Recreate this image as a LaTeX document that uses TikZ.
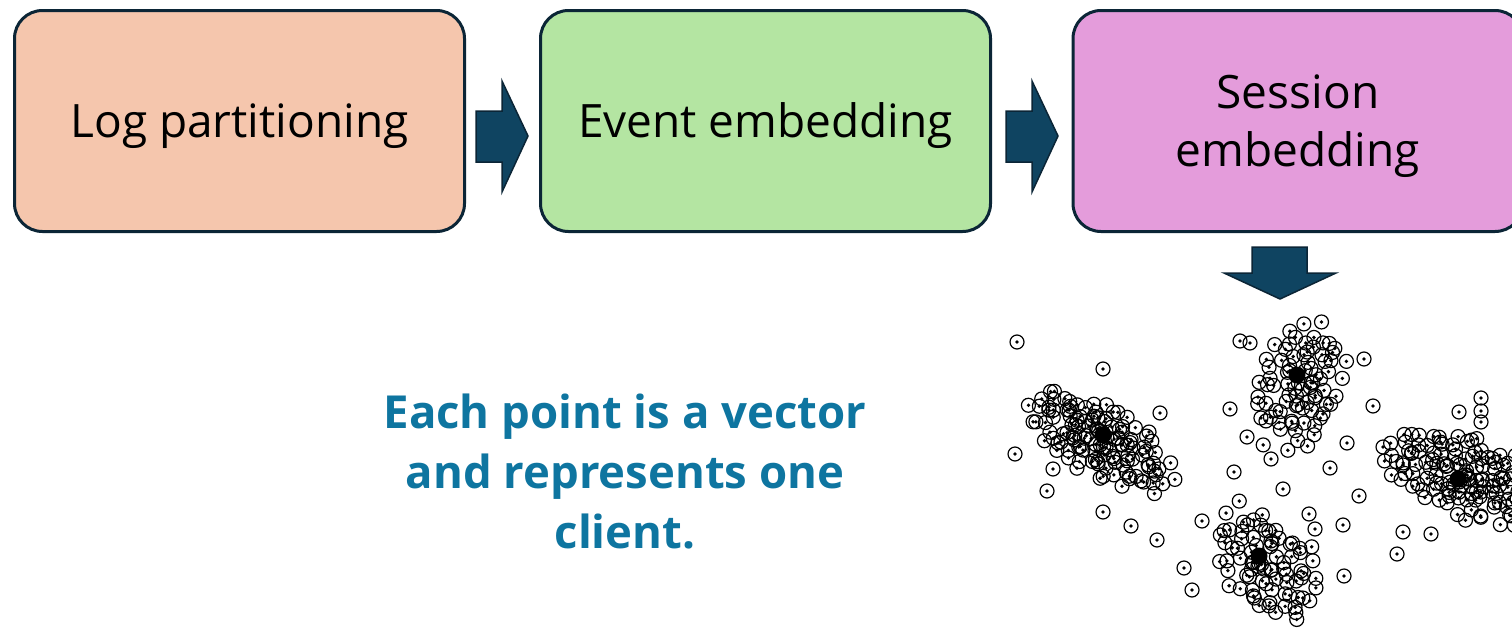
\documentclass[tikz,border=0pt]{standalone}
\usepackage{fontspec}
\setmainfont{Open Sans}
\definecolor{boxA}{HTML}{F5C6AD}
\definecolor{boxB}{HTML}{B4E5A2}
\definecolor{boxC}{HTML}{E49CDB}
\definecolor{edge}{HTML}{0B2536}
\definecolor{arrfill}{HTML}{0F4461}
\definecolor{teal}{HTML}{0E75A0}
\newcommand\clientpt[2]{\draw[ptc] (#1,#2) circle[radius=7pt]; \fill (#1,#2) circle[radius=1.9pt];}
\begin{document}
\begin{tikzpicture}[x=1pt,y=-1pt,
  stage/.style={draw=edge, line width=3pt, rounded corners=28pt, minimum width=450pt, minimum height=221pt},
  stagetext/.style={align=center, font=\fontsize{46}{58}\selectfont, text=black},
  blockarrow/.style={fill=arrfill, draw=edge, line width=1.5pt, line join=miter},
  ptc/.style={line width=1.2pt, black},
  note/.style={text=teal, align=center, font=\fontsize{45.5}{60}\selectfont\bfseries}]
\clip (0,0) rectangle (1512,637);
\fill[white] (0,0) rectangle (1512,637);
\node[stage, fill=boxA] (log) at (239.5,121) {};
\node[stage, fill=boxB] (evt) at (765.5,121) {};
\node[stage, fill=boxC] (ses) at (1298,121) {};
\node[stagetext] (logt) at ([yshift=-5pt]log.center) {Log partitioning};
\node[stagetext] (evtt) at ([yshift=-5pt]evt.center) {Event embedding};
\node[stagetext] (sest) at ([yshift=-5pt]ses.center) {Session\\embedding};
% block arrows
\draw[blockarrow] (476,111) -- (502,111) -- (502,81) -- (528,136) -- (502,192) -- (502,162) -- (476,162) -- cycle;
\draw[blockarrow] (1006,111) -- (1032,111) -- (1032,81) -- (1058,136) -- (1032,192) -- (1032,162) -- (1006,162) -- cycle;
\draw[blockarrow] (1252,247) -- (1307,247) -- (1307,273) -- (1336,273) -- (1280,299) -- (1224,273) -- (1252,273) -- cycle;
% text
\node[note] (txt) at (625,472) {Each point is a vector\\and represents one\\client.};
% scatter
\pgfmathsetseed{2024}
\foreach \n/\cx/\cy/\a/\sa/\sb in {125/1100/440/30/80/34, 80/1300/385/-75/66/42, 80/1268/565/50/66/42, 145/1472/478/18/95/40} {
  \foreach \i in {1,...,\n} {
    \pgfmathsetmacro\r{((\i-0.5)/\n)^0.6}
    \pgfmathsetmacro\t{mod(\i*0.381966,1)*360}
    \pgfmathsetmacro\u{\r*cos(\t)*\sa+6*rand}
    \pgfmathsetmacro\v{\r*sin(\t)*\sb+6*rand}
    \pgfmathsetmacro\px{\cx+\u*cos(\a)-\v*sin(\a)}
    \pgfmathsetmacro\py{\cy+\u*sin(\a)+\v*cos(\a)}
    \clientpt{\px}{\py}
  }
}
\foreach \cx/\cy in {1103/435,1297/375,1259/556,1458/479} {
  \fill (\cx,\cy) circle[radius=8.5pt];
}
\foreach \px/\py in {1017/342,1103/369,1160/413,1015/454,1053/469,1047/491,1103/512,1131/526,1157/540,1230/409,1247/437,1271/459,1234/472,1330/468,1347/443,1359/496,1364/359,1373/406,1343/525,1344/576,1309/514,1315/529,1283/489,1184/568,1192/590,1202/521,1403/532,1397/554,1431/534,1459/412,1481/398,1481/411,1481/422,1383/447,1240/341,1250/343,1258/397} {
  \clientpt{\px}{\py}
}
\end{tikzpicture}
\end{document}
